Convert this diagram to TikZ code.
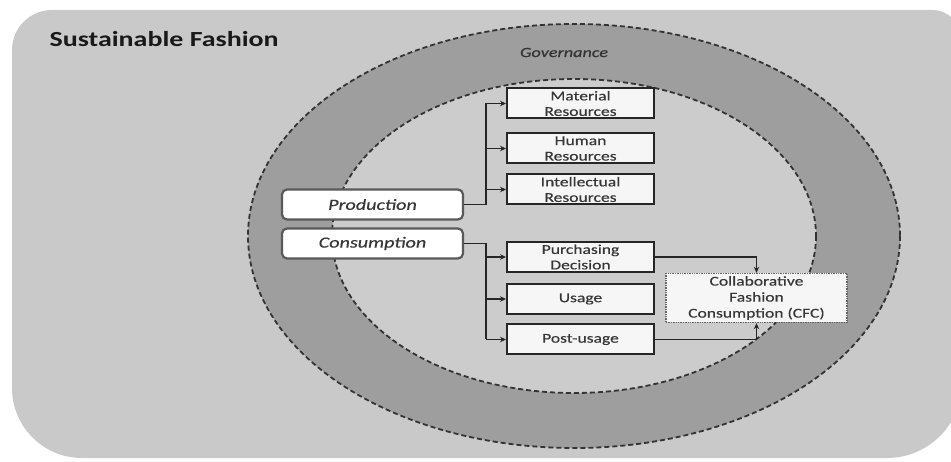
\documentclass[tikz,border=0pt]{standalone}
\usepackage{fontspec}
\setmainfont[FakeStretch=1.3]{Carlito}
\newfontfamily\boxfont[FakeStretch=1.3,FakeBold=0.4]{Carlito}
\usetikzlibrary{arrows.meta,calc}
\definecolor{bgc}{RGB}{201,201,201}
\definecolor{ringc}{RGB}{158,158,158}
\definecolor{innerc}{RGB}{204,204,204}
\definecolor{boxc}{RGB}{246,246,246}
\definecolor{txtc}{RGB}{55,55,55}
\tikzset{
  resbox/.style={draw=black!85, line width=2pt, fill=boxc, minimum width=147pt, minimum height=30pt,
    align=center, inner sep=1pt, text=txtc, font=\boxfont\fontsize{13.5}{15.5}\selectfont},
  mainbox/.style={draw=black!65, line width=2.2pt, fill=white, rounded corners=5pt, minimum width=181pt,
    minimum height=30pt, text=txtc, font=\boxfont\fontsize{15.5}{17}\selectfont\itshape},
  cfcbox/.style={draw=black!60, densely dotted, line width=1.4pt, fill=boxc, minimum width=181pt,
    minimum height=49pt, align=center, inner sep=1pt, text=txtc, font=\boxfont\fontsize{13.5}{16}\selectfont},
  conn/.style={draw=black!85, line width=1.8pt},
  arr/.style={conn, -{Stealth[length=6pt,width=5.5pt]}},
  ellline/.style={draw=black!80, line width=1.8pt, dash pattern=on 5pt off 3pt},
}
\begin{document}
\begin{tikzpicture}[x=1pt,y=-1pt]
\useasboundingbox (0,0) rectangle (951,462);
\clip (0,0) rectangle (951,462);
% background
\fill[bgc] (12,200) [rounded corners=40] -- (12,10) [rounded corners=30] -- (962,10)
  [rounded corners=75] -- (962,458) [rounded corners=70] -- (12,458) -- cycle;
\node[anchor=base west, font=\fontsize{21.5}{24}\selectfont\bfseries, text=black!90] (title) at (46,47) {Sustainable Fashion};
% rings
\filldraw[fill=ringc, ellline] (574,236) ellipse [x radius=326, y radius=212];
\filldraw[fill=innerc, ellline] (574,236) ellipse [x radius=242, y radius=157];
\node[font=\boxfont\fontsize{14}{16}\selectfont\itshape, text=black!80, anchor=base] (gov) at (564,57) {Governance};
% boxes
\node[mainbox] (prod) at (372.5,204.5) {Production};
\node[mainbox] (cons) at (372.5,243.5) {Consumption};
\node[resbox] (mat) at (580.5,103.5) {Material\\Resources};
\node[resbox] (hum) at (580.5,148.5) {Human\\Resources};
\node[resbox] (int) at (580.5,189.5) {Intellectual\\Resources};
\node[resbox] (pur) at (580.5,257) {Purchasing\\Decision};
\node[resbox] (use) at (580.5,299) {Usage};
\node[resbox] (post) at (580.5,339.5) {Post-usage};
\node[cfcbox] (cfc) at (756.5,298) {Collaborative\\Fashion\\Consumption (CFC)};
% connectors
\coordinate (pj) at (486,204.5);
\coordinate (cj) at (486,243.5);
\draw[conn] (prod.east) -- (pj) -- (pj |- mat.west);
\draw[arr] (pj |- mat.west) -- (mat.west);
\draw[arr] (pj |- hum.west) -- (hum.west);
\draw[arr] (pj |- int.west) -- (int.west);
\draw[conn] (cons.east) -- (cj) -- (cj |- post.west);
\draw[arr] (cj |- pur.west) -- (pur.west);
\draw[arr] (cj |- use.west) -- (use.west);
\draw[arr] (cj |- post.west) -- (post.west);
\draw[arr] (pur.east) -| (cfc.north);
\draw[arr] (post.east) -| (cfc.south);
\end{tikzpicture}
\end{document}
